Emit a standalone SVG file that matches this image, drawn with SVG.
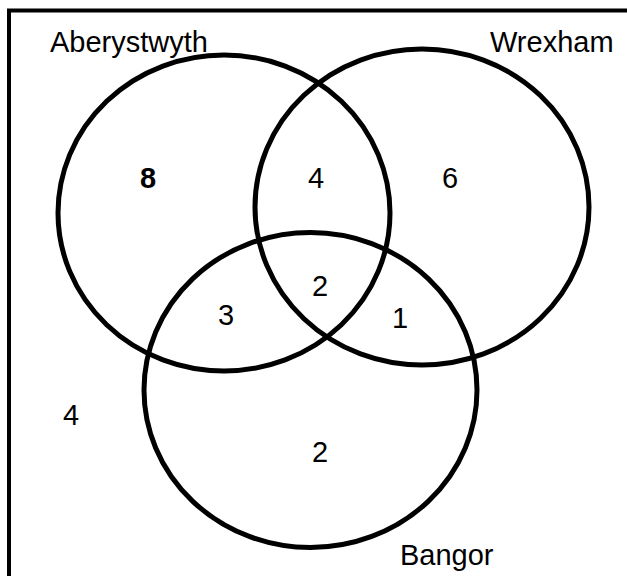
<svg xmlns="http://www.w3.org/2000/svg" width="627" height="576" viewBox="0 0 627 576">
<style>
.set{fill:none;stroke:#000;stroke-width:5}
.lbl{font-family:"Liberation Sans",Arial,sans-serif;font-size:29px;fill:#000}
.num{font-family:"Liberation Sans",Arial,sans-serif;font-size:29px;fill:#000;text-anchor:middle}
</style>
<rect width="627" height="576" fill="#fff"/>
<g id="frame"><path d="M9,576 V10.5 H627" fill="none" stroke="#000" stroke-width="4"/></g>
<g id="aberystwyth"><ellipse class="set" cx="224" cy="213" rx="166" ry="158"/><text class="lbl" x="50" y="52">Aberystwyth</text></g>
<g id="wrexham"><ellipse class="set" cx="422" cy="207" rx="167" ry="158"/><text class="lbl" x="490" y="52">Wrexham</text></g>
<g id="bangor"><ellipse class="set" cx="310.5" cy="390" rx="166.5" ry="157.5"/><text class="lbl" x="400" y="565">Bangor</text></g>
<g id="counts">
<text class="num" x="148" y="188" font-weight="bold">8</text>
<text class="num" x="316" y="188">4</text>
<text class="num" x="450" y="188">6</text>
<text class="num" x="320" y="296">2</text>
<text class="num" x="226" y="325">3</text>
<text class="num" x="400" y="328">1</text>
<text class="num" x="71" y="425">4</text>
<text class="num" x="320" y="462">2</text>
</g>
</svg>
